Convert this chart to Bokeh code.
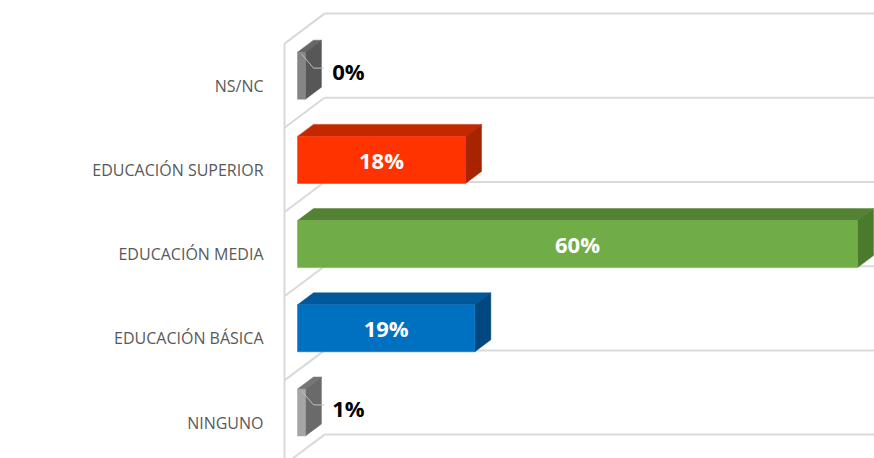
from bokeh.plotting import figure
from bokeh.models import FixedTicker
from bokeh.core.properties import value
from bokeh.embed import file_html
from bokeh.resources import INLINE

categories = ["NINGUNO", "EDUCACIÓN BÁSICA", "EDUCACIÓN MEDIA", "EDUCACIÓN SUPERIOR", "NS/NC"]
values = [0.85, 19, 60, 18, 0.85]
value_labels = ["1%", "19%", "60%", "18%", "0%"]
front_colors = ["#a5a5a5", "#0070c0", "#70ad47", "#ff3300", "#858585"]
top_colors = ["#767676", "#00579a", "#548235", "#c42800", "#666666"]
side_colors = ["#6a6a6a", "#00487f", "#4a7a2b", "#a82300", "#575757"]

# pseudo-3D geometry (data units)
PX_X = 560 / 60.0       # px per percent
PX_Y = 84.2             # px per category
front_x = -13 / PX_X    # front floor plane x
wall_dx = 27 / PX_X     # back wall x
wall_dy = 30 / PX_Y
bar_dx = 16 / PX_X
bar_dy = 12 / PX_Y
bar_off = 10 / PX_Y
bar_h = 47 / PX_Y

p = figure(width=874, height=458,
           x_range=(-15 / PX_X, 577 / PX_X), y_range=(-36 / PX_Y, 422 / PX_Y),
           output_backend="svg", toolbar_location=None, x_axis_location=None,
           min_border_left=282, min_border_right=0, min_border_top=0, min_border_bottom=0)
p.grid.visible = False
p.outline_line_color = None
p.background_fill_color = "white"
p.border_fill_color = "white"

n = len(categories)
bounds = [k - 0.5 for k in range(n + 1)]
grid_col = "#d9d9d9"
# back wall lines
p.segment(x0=[wall_dx] * len(bounds), y0=[b + wall_dy for b in bounds],
          x1=[70] * len(bounds), y1=[b + wall_dy for b in bounds],
          line_color=grid_col, line_width=2)
# left wall slants
p.segment(x0=[front_x] * len(bounds), y0=bounds,
          x1=[wall_dx] * len(bounds), y1=[b + wall_dy for b in bounds],
          line_color=grid_col, line_width=2)
# left wall vertical
p.segment(x0=[front_x], y0=[bounds[-1]], x1=[front_x], y1=[-1],
          line_color=grid_col, line_width=2)

fx, fy, tx, ty, sx, sy = [], [], [], [], [], []
for i, v in enumerate(values):
    c = i + bar_off
    y0, y1 = c - bar_h / 2, c + bar_h / 2
    fx.append([0, v, v, 0]); fy.append([y0, y0, y1, y1])
    tx.append([0, v, v + bar_dx, bar_dx]); ty.append([y1, y1, y1 + bar_dy, y1 + bar_dy])
    sx.append([v, v + bar_dx, v + bar_dx, v]); sy.append([y0, y0 + bar_dy, y1 + bar_dy, y1])

p.patches(xs=tx, ys=ty, fill_color=top_colors, line_color=top_colors, line_width=0.5)
p.patches(xs=sx, ys=sy, fill_color=side_colors, line_color=side_colors, line_width=0.5)
p.patches(xs=fx, ys=fy, fill_color=front_colors, line_color=front_colors, line_width=0.5)

# labels
in_x, in_y, in_t = [], [], []
out_x, out_y, out_t = [], [], []
lead_x, lead_y = [], []
for i, (v, t) in enumerate(zip(values, value_labels)):
    c = i + bar_off
    if v >= 5:
        in_x.append(v / 2); in_y.append(c); in_t.append(t)
    else:
        lx = v + bar_dx + 1.15
        out_x.append(lx); out_y.append(c + 0.05); out_t.append(t)
        ly = c + 0.09
        lead_x.append([v * 0.5, bar_dx, lx - 0.9])
        lead_y.append([c + bar_h / 2 - 0.02, ly, ly])

p.multi_line(xs=lead_x, ys=lead_y, line_color="#bfbfbf", line_width=1)
p.text(x=in_x, y=in_y, text=in_t, text_color="white", text_font=value("Open Sans"),
       text_font_style="bold", text_font_size="22px", text_align="center", text_baseline="middle")
p.text(x=out_x, y=out_y, text=out_t, text_color="black", text_font=value("Open Sans"),
       text_font_style="bold", text_font_size="22px", text_align="left", text_baseline="middle")

ax = p.yaxis[0]
ax.ticker = FixedTicker(ticks=list(range(n)))
ax.major_label_overrides = {i: cat for i, cat in enumerate(categories)}
ax.axis_line_color = None
ax.major_tick_line_color = None
ax.minor_tick_line_color = None
ax.major_tick_out = 0
ax.major_tick_in = 0
ax.major_label_standoff = 19
ax.major_label_text_font = "Open Sans"
ax.major_label_text_font_size = "16px"
ax.major_label_text_color = "#595959"

open("out.html", "w").write(file_html(p, INLINE))
